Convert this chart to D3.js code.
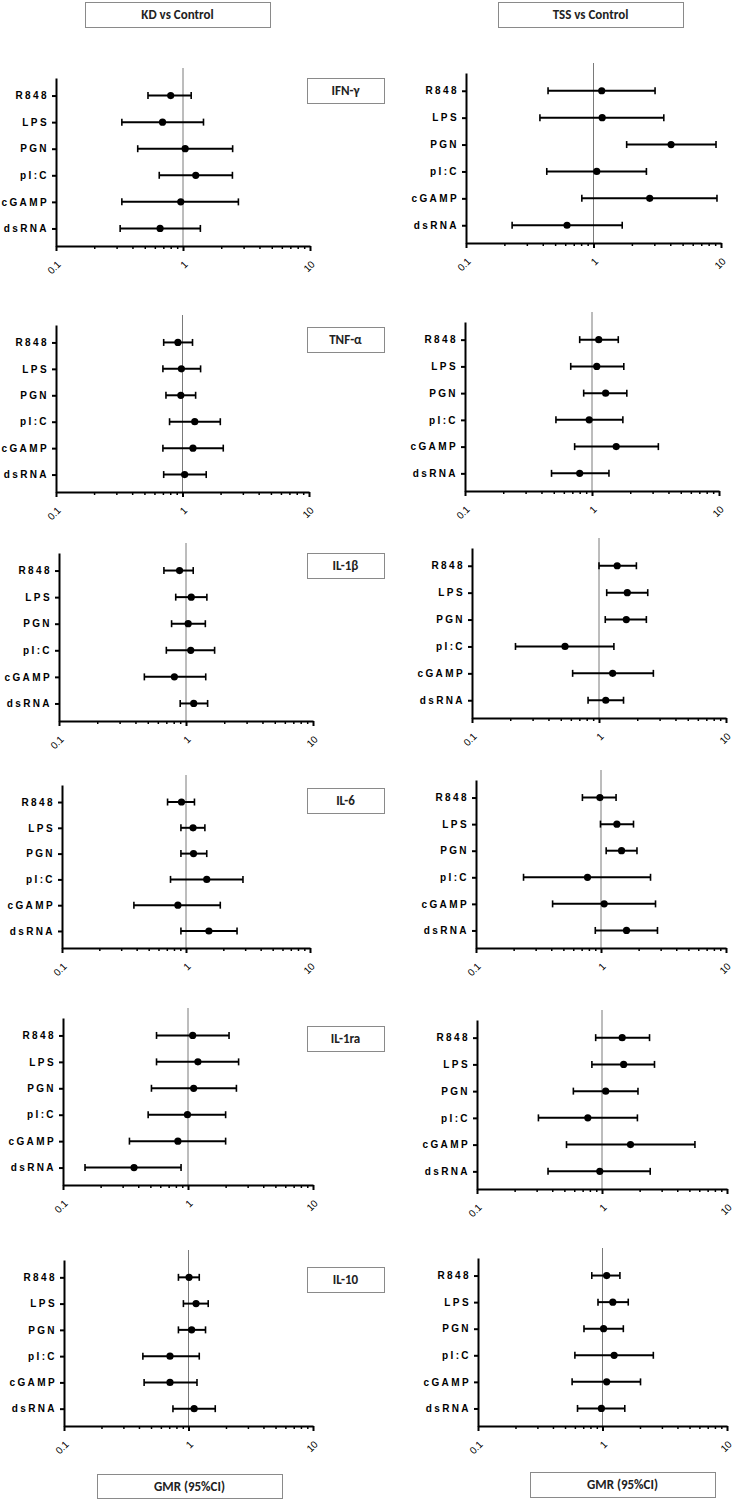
<!DOCTYPE html>
<html>
<head>
<meta charset="utf-8">
<script src="https://cdn.jsdelivr.net/npm/d3@7"></script>
<style>
	body { margin: 0; background: #fff; }
	svg { display: block; }
</style>
</head>
<body>
<main></main>
<script>
// categories and tick labels
const stimuli = ["R848", "LPS", "PGN", "pI:C", "cGAMP", "dsRNA"];
const cytokines = ["IFN-γ", "TNF-α", "IL-1β", "IL-6", "IL-1ra", "IL-10"];
const comparisons = ["KD vs Control", "TSS vs Control"];
const xTicks = [0.1, 1, 10];
const xTickLabels = ["0.1", "1", "10"];

// GMR with 95% CI, one row per stimulus: [gmr, lower, upper]
const kdIFNg  = [[0.80, 0.53, 1.16], [0.69, 0.33, 1.45], [1.04, 0.44, 2.46], [1.26, 0.65, 2.45], [0.96, 0.33, 2.73], [0.66, 0.32, 1.37]];
const kdTNFa  = [[0.92, 0.71, 1.20], [0.98, 0.70, 1.39], [0.97, 0.74, 1.27], [1.25, 0.79, 1.99], [1.21, 0.70, 2.10], [1.04, 0.71, 1.54]];
const kdIL1b  = [[0.89, 0.67, 1.14], [1.10, 0.83, 1.46], [1.04, 0.77, 1.42], [1.09, 0.70, 1.68], [0.81, 0.47, 1.43], [1.15, 0.90, 1.48]];
const kdIL6   = [[0.92, 0.71, 1.17], [1.14, 0.91, 1.42], [1.15, 0.91, 1.47], [1.47, 0.75, 2.88], [0.86, 0.38, 1.89], [1.53, 0.91, 2.58]];
const kdIL1ra = [[1.09, 0.56, 2.13], [1.20, 0.56, 2.54], [1.11, 0.51, 2.44], [0.99, 0.48, 2.00], [0.83, 0.34, 2.00], [0.37, 0.15, 0.88]];
const kdIL10  = [[1.01, 0.83, 1.22], [1.15, 0.91, 1.44], [1.06, 0.83, 1.37], [0.71, 0.43, 1.22], [0.71, 0.44, 1.17], [1.11, 0.75, 1.64]];

const tssIFNg  = [[1.16, 0.44, 3.04], [1.17, 0.38, 3.56], [4.06, 1.82, 9.14], [1.06, 0.43, 2.60], [2.76, 0.81, 9.30], [0.62, 0.23, 1.68]];
const tssTNFa  = [[1.13, 0.80, 1.61], [1.09, 0.68, 1.78], [1.28, 0.86, 1.88], [0.95, 0.52, 1.75], [1.55, 0.73, 3.33], [0.80, 0.48, 1.36]];
const tssIL1b  = [[1.39, 1.00, 1.97], [1.67, 1.15, 2.42], [1.64, 1.12, 2.36], [0.54, 0.22, 1.31], [1.28, 0.62, 2.68], [1.13, 0.82, 1.56]];
const tssIL6   = [[0.98, 0.71, 1.32], [1.34, 0.99, 1.82], [1.46, 1.10, 1.94], [0.78, 0.24, 2.49], [1.06, 0.41, 2.73], [1.60, 0.90, 2.83]];
const tssIL1ra = [[1.45, 0.89, 2.40], [1.49, 0.83, 2.63], [1.07, 0.59, 1.94], [0.77, 0.31, 1.92], [1.69, 0.52, 5.54], [0.96, 0.37, 2.43]];
const tssIL10  = [[1.08, 0.82, 1.38], [1.21, 0.92, 1.61], [1.02, 0.71, 1.47], [1.24, 0.60, 2.56], [1.08, 0.57, 2.02], [0.98, 0.63, 1.51]];

const kdPanels = [kdIFNg, kdTNFa, kdIL1b, kdIL6, kdIL1ra, kdIL10];
const tssPanels = [tssIFNg, tssTNFa, tssIL1b, tssIL6, tssIL1ra, tssIL10];

// panel frames, [x of 0.1, x of 10, top of y axis, y of x axis]
const kdFrames = [
	[56, 310, 78, 246],
	[56, 309, 325, 492],
	[59, 313, 553, 721],
	[62, 310, 785, 948],
	[63, 313, 1018, 1185],
	[64, 313, 1260, 1426]
];
const tssFrames = [
	[466, 721, 73, 243],
	[465, 719, 322, 491],
	[472, 726, 548, 718],
	[476, 726, 780, 948],
	[477, 727, 1020, 1189],
	[478, 727, 1258, 1426]
];
const cytokineBoxTops = [78, 327, 553, 788, 1026, 1267];

const width = 734;
const height = 1499;
const labelFont = "'Liberation Sans', Arial, sans-serif";
const boxFont = "Carlito, Calibri, Lato, 'Open Sans', sans-serif";

const svg = d3.select("main")
	.append("svg")
	.attr("width", width)
	.attr("height", height);

function drawBox(x, y, w, h, label) {
	const g = svg.append("g");
	g.append("rect")
		.attr("x", x + 0.5)
		.attr("y", y + 0.5)
		.attr("width", w)
		.attr("height", h)
		.attr("fill", "#fff")
		.attr("stroke", "#8a8a8a")
		.attr("stroke-width", 1);
	g.append("text")
		.attr("x", x + w / 2)
		.attr("y", y + h / 2 + 4.5)
		.attr("text-anchor", "middle")
		.style("font-family", boxFont)
		.style("font-size", "13px")
		.style("font-weight", "bold")
		.attr("fill", "#222")
		.text(label);
}

function drawPanel(rows, frame) {
	const [x0, x1, top, axisY] = frame;

	const xScale = d3.scaleLog()
		.domain([0.1, 10])
		.range([x0, x1]);

	const yScale = d3.scalePoint()
		.domain(stimuli)
		.range([top, axisY])
		.padding(0.66);

	const g = svg.append("g");

	// line of no difference
	g.append("line")
		.attr("x1", xScale(1))
		.attr("x2", xScale(1))
		.attr("y1", top - 10)
		.attr("y2", axisY)
		.attr("stroke", "#7a7a7a")
		.attr("stroke-width", 1);

	// minor ticks
	const minor = [];
	for (let d = 0.1; d < 10; d *= 10) {
		for (let k = 2; k <= 9; k++) minor.push(+(d * k).toFixed(2));
	}
	const minorAxis = g.append("g")
		.attr("transform", `translate(0, ${axisY})`)
		.call(d3.axisBottom(xScale).tickValues(minor).tickSize(3).tickSizeOuter(0).tickFormat(""));
	minorAxis.select(".domain").remove();
	minorAxis.selectAll(".tick line").attr("stroke-width", 1.5);

	const xAxis = g.append("g")
		.attr("transform", `translate(0, ${axisY})`)
		.call(d3.axisBottom(xScale)
			.tickValues(xTicks)
			.tickSize(5)
			.tickSizeOuter(0)
			.tickFormat((d, i) => xTickLabels[i]));
	xAxis.select(".domain").attr("stroke-width", 2);
	xAxis.selectAll(".tick line").attr("stroke-width", 2);
	xAxis.selectAll(".tick text")
		.attr("x", 0)
		.attr("y", 0)
		.attr("dy", 0)
		.attr("transform", "translate(5, 19) rotate(-45)")
		.style("text-anchor", "end")
		.style("font-family", labelFont)
		.style("font-size", "10px")
		.attr("fill", "#000");

	const yAxis = g.append("g")
		.attr("transform", `translate(${x0}, 0)`)
		.call(d3.axisLeft(yScale).tickSize(4).tickSizeOuter(0).tickPadding(3));
	yAxis.select(".domain").attr("stroke-width", 2);
	yAxis.selectAll(".tick line").attr("stroke-width", 2);
	yAxis.selectAll(".tick text")
		.style("font-family", labelFont)
		.style("font-size", "10px")
		.style("font-weight", "bold")
		.style("letter-spacing", "2.4px")
		.attr("fill", "#000");

	const rowsG = g.selectAll(".row")
		.data(rows)
		.enter()
		.append("g")
		.attr("class", "row")
		.attr("transform", (d, i) => `translate(0, ${yScale(stimuli[i])})`);

	rowsG.append("line")
		.attr("x1", d => xScale(d[1]))
		.attr("x2", d => xScale(d[2]))
		.attr("stroke", "#000")
		.attr("stroke-width", 2);

	rowsG.selectAll(".cap")
		.data(d => [d[1], d[2]])
		.enter()
		.append("line")
		.attr("class", "cap")
		.attr("x1", d => xScale(d))
		.attr("x2", d => xScale(d))
		.attr("y1", -3.5)
		.attr("y2", 3.5)
		.attr("stroke", "#000")
		.attr("stroke-width", 1.6);

	rowsG.append("circle")
		.attr("cx", d => xScale(d[0]))
		.attr("r", 3.6)
		.attr("fill", "#000");
}

drawBox(85, 2, 185, 25, comparisons[0]);
drawBox(498, 2, 185, 25, comparisons[1]);

for (let i = 0; i < cytokines.length; i++) {
	drawPanel(kdPanels[i], kdFrames[i]);
	drawPanel(tssPanels[i], tssFrames[i]);
	drawBox(307, cytokineBoxTops[i], 77, 25, cytokines[i]);
}

drawBox(97, 1474, 185, 24, "GMR (95%CI)");
drawBox(530, 1472, 185, 25, "GMR (95%CI)");
</script>
</body>
</html>
